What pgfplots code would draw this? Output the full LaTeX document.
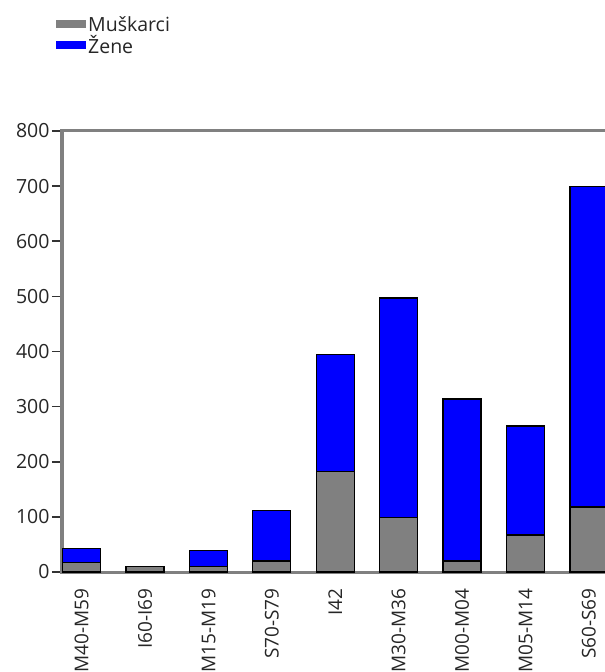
\documentclass[border=0pt]{standalone}
\usepackage{pgfplots}
\pgfplotsset{compat=1.18}
\usepackage{fontspec}
\setmainfont{Open Sans}
\definecolor{axgray}{HTML}{808080}
\definecolor{bargray}{HTML}{808080}
\definecolor{barblue}{HTML}{0000FF}
\begin{document}
\begin{tikzpicture}
\begin{axis}[
  at={(0,0)}, anchor=south west,
  scale only axis,
  width=590.3bp, height=441bp,
  xmin=-0.31, xmax=9, ymin=0, ymax=800,
  ybar stacked, bar width=38bp,
  axis line style={draw=axgray, line width=3bp},
  ytick={0,100,...,800},
  ytick pos=left,
  tick align=outside,
  major tick length=10bp,
  ytick style={draw=black!80, line width=1.5bp},
  xtick={0,1,2,3,4,5,6,7,8},
  xticklabels={M40-M59,I60-I69,M15-M19,S70-S79,I42,M30-M36,M00-M04,M05-M14,S60-S69},
  xtick style={draw=none},
  x tick label style={rotate=90, anchor=east, font=\fontsize{19bp}{22bp}\selectfont, text=black!85},
  y tick label style={font=\fontsize{19.5bp}{22bp}\selectfont, text=black!85},
  /pgf/number format/assume math mode=true,
  xticklabel shift=3bp,
  yticklabel shift=-1bp,
  legend style={at={(0,1)}, anchor=north west, xshift=-6bp, yshift=117bp, draw=none, fill=none,
    font=\fontsize{19.5bp}{22bp}\selectfont, text=black!85, row sep=-1bp, inner sep=0pt},
  legend cell align=left,
  legend image code/.code={\path[#1, draw=none] (0bp,-4bp) rectangle (30bp,4bp);},
  clip=false,
]
\addplot[fill=bargray, draw=black, line width=1.2bp] coordinates {
  (0,17) (1,10) (2,10) (3,20) (4,182) (5,99) (6,20) (7,67) (8,118)};
\addlegendentry{Muškarci}
\addplot[fill=barblue, draw=black, line width=1.2bp] coordinates {
  (0,25) (1,0) (2,29) (3,91) (4,213) (5,398) (6,294) (7,198) (8,582)};
\addlegendentry{Žene}
\end{axis}
\pgfresetboundingbox
\path[use as bounding box] (-62bp,-100bp) rectangle (543bp,572bp);
\end{tikzpicture}
\end{document}
